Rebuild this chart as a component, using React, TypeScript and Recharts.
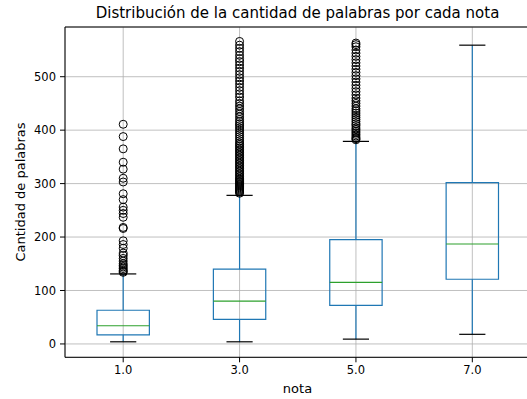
import React from 'react';
import { ComposedChart, XAxis, YAxis, CartesianGrid, Scatter, ReferenceArea, ReferenceLine } from 'recharts';

// five-number summary per "nota" group
const notas = ['1.0', '3.0', '5.0', '7.0'];
const whiskerLow = [4, 4, 9, 18];
const q1 = [17, 46, 72, 121];
const median = [34, 80, 115, 187];
const q3 = [63, 140, 195, 302];
const whiskerHigh = [131, 278, 379, 559];

// outliers (fliers) per group
const fliers1 = [411, 388, 365, 340, 327, 310, 303, 281, 270, 256, 250, 244, 237, 218, 216, 193, 186, 179, 170, 165, 160, 155, 150, 147, 144, 141, 138, 136, 134];
const fliers3 = [282, 284, 286, 288, 290, 292, 294, 296, 298, 300, 302, 304, 306, 308, 310, 313, 316, 319, 322, 325, 328, 331, 334, 337, 340, 343, 346, 349, 352, 355, 358, 361, 364, 367, 370, 373, 376, 380, 384, 388, 392, 396, 400, 404, 408, 412, 416, 420, 425, 430, 435, 440, 445, 450, 455, 462, 468, 474, 480, 486, 492, 498, 504, 510, 516, 522, 528, 534, 540, 547, 553, 559, 566];
const fliers5 = [382, 384, 386, 389, 392, 395, 398, 401, 404, 408, 412, 416, 420, 424, 428, 432, 436, 440, 445, 450, 455, 460, 466, 472, 478, 484, 490, 496, 502, 508, 514, 520, 526, 532, 538, 544, 550, 556, 560, 563];
const fliers7: number[] = [];

const yTicks = [0, 100, 200, 300, 400, 500];
const Y_DOMAIN = [-25, 593];

const BLUE = '#1f77b4';
const GREEN = '#2ca02c';
const FONT = 'DejaVu Sans, sans-serif';

const fliers = [fliers1, fliers3, fliers5, fliers7];
const flierPoints = fliers.flatMap((vals, i) => vals.map((v) => ({ x: i + 1, y: v })));

const HALF_BOX = 0.225;
const HALF_CAP = 0.1125;

const Ring = (props: any) => (
  <circle cx={props.cx} cy={props.cy} r={4} fill="none" stroke="#000" strokeWidth={1} />
);

export default function App() {
  return (
    <div style={{ position: 'absolute', left: 0, top: 0, width: 527, height: 399, overflow: 'hidden', background: '#fff', fontFamily: FONT }}>
      <div style={{ position: 'absolute', left: 65, width: 465, top: 4, textAlign: 'center', fontSize: 15, color: '#000' }}>
        Distribución de la cantidad de palabras por cada nota
      </div>
      <div style={{ position: 'absolute', left: 20, top: 192, transform: 'translate(-50%, -50%) rotate(-90deg)', whiteSpace: 'nowrap', fontSize: 13, color: '#000' }}>
        Cantidad de palabras
      </div>
      <div style={{ position: 'absolute', left: 65, width: 465, top: 381, textAlign: 'center', fontSize: 13, color: '#000' }}>
        nota
      </div>
      <ComposedChart width={531} height={399} margin={{ top: 27, right: 0.5, bottom: 11.7, left: 25 }} style={{ position: 'absolute', left: 0, top: 0 }}>
        <CartesianGrid stroke="#b0b0b0" strokeWidth={0.8} />
        <XAxis
          dataKey="x"
          type="number"
          domain={[0.5, 4.5]}
          allowDataOverflow
          ticks={[1, 2, 3, 4]}
          tickFormatter={(v: number) => notas[v - 1]}
          height={30}
          stroke="#000"
          tickSize={5}
          tickMargin={4}
          tick={{ fill: '#000', fontSize: 11.5, fontFamily: FONT }}
        />
        <YAxis
          dataKey="y"
          type="number"
          domain={Y_DOMAIN}
          allowDataOverflow
          ticks={yTicks}
          width={40}
          stroke="#000"
          tickSize={5}
          tickMargin={4}
          tick={{ fill: '#000', fontSize: 11.5, fontFamily: FONT }}
        />
        <ReferenceLine y={Y_DOMAIN[1]} stroke="#000" strokeWidth={1} />
        {notas.map((_, i) => {
          const p = i + 1;
          return (
            <React.Fragment key={i}>
              <ReferenceLine segment={[{ x: p, y: whiskerLow[i] }, { x: p, y: q1[i] }]} stroke={BLUE} strokeWidth={1.2} />
              <ReferenceLine segment={[{ x: p, y: q3[i] }, { x: p, y: whiskerHigh[i] }]} stroke={BLUE} strokeWidth={1.2} />
              <ReferenceLine segment={[{ x: p - HALF_CAP, y: whiskerLow[i] }, { x: p + HALF_CAP, y: whiskerLow[i] }]} stroke="#000" strokeWidth={1.2} />
              <ReferenceLine segment={[{ x: p - HALF_CAP, y: whiskerHigh[i] }, { x: p + HALF_CAP, y: whiskerHigh[i] }]} stroke="#000" strokeWidth={1.2} />
              <ReferenceArea x1={p - HALF_BOX} x2={p + HALF_BOX} y1={q1[i]} y2={q3[i]} fill="none" fillOpacity={0} stroke={BLUE} strokeWidth={1.2} />
              <ReferenceLine segment={[{ x: p - HALF_BOX, y: median[i] }, { x: p + HALF_BOX, y: median[i] }]} stroke={GREEN} strokeWidth={1.2} />
            </React.Fragment>
          );
        })}
        <Scatter data={flierPoints} dataKey="y" shape={<Ring />} isAnimationActive={false} />
      </ComposedChart>
    </div>
  );
}
